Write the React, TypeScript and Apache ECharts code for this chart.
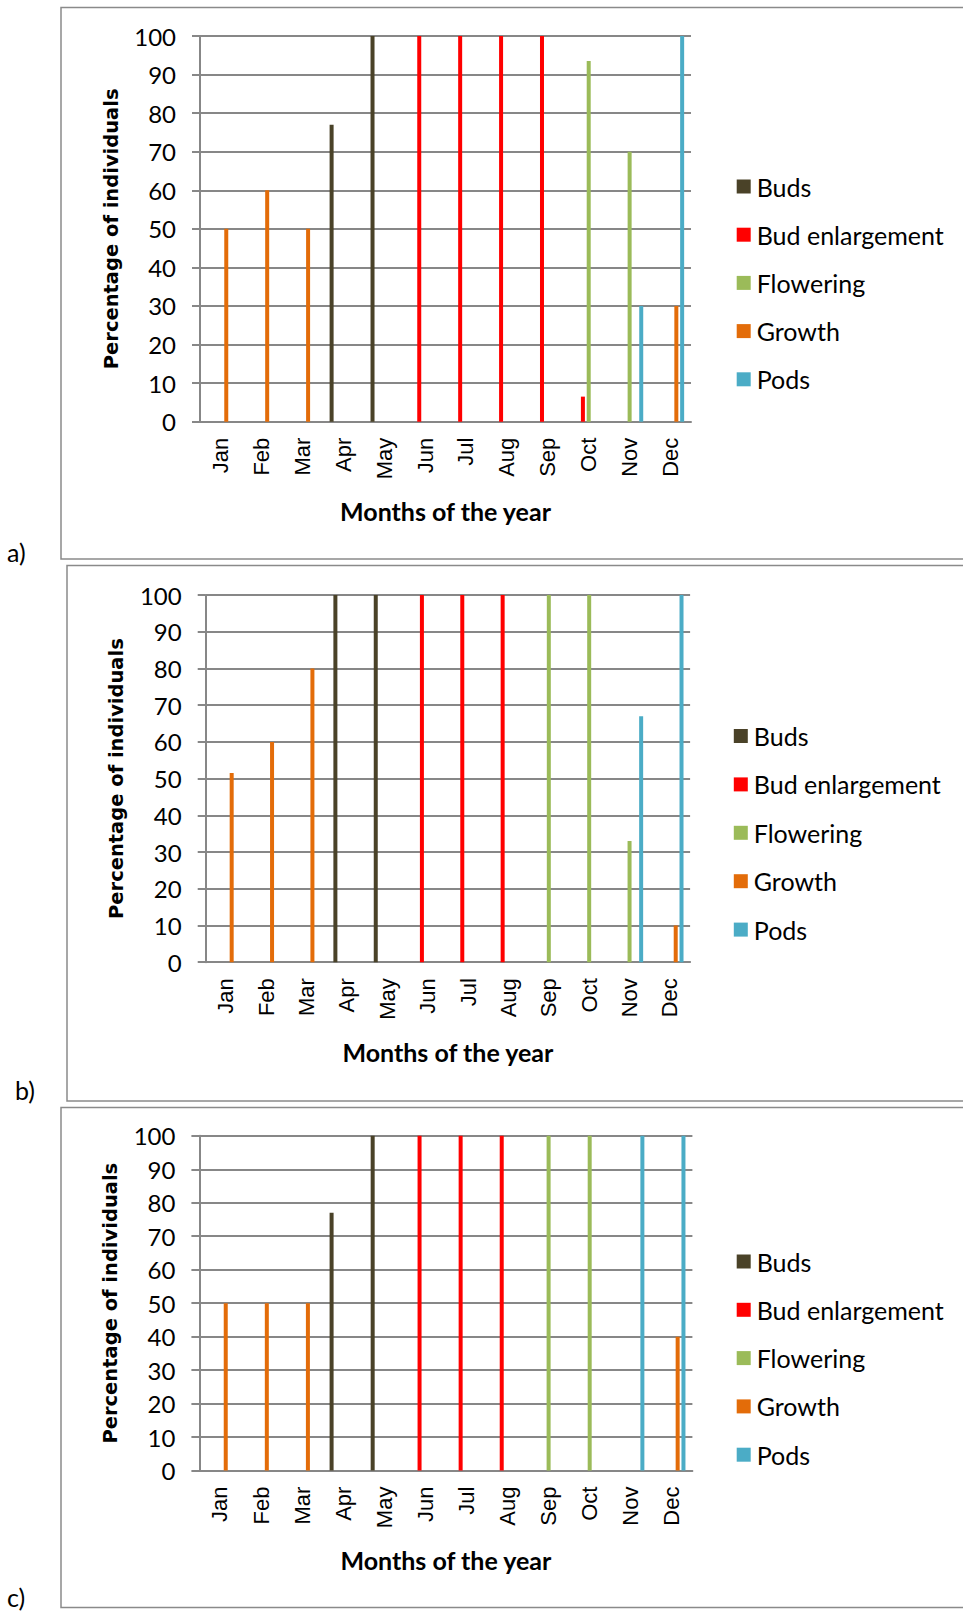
import React, { useEffect, useRef } from "react";
import * as echarts from "echarts";

// ---------- data ----------
const months = ["Jan", "Feb", "Mar", "Apr", "May", "Jun", "Jul", "Aug", "Sep", "Oct", "Nov", "Dec"];
const seriesNames = ["Buds", "Bud enlargement", "Flowering", "Growth", "Pods"];
const panelLabels = ["a)", "b)", "c)"];
const xAxisTitle = "Months of the year";
const yAxisTitle = "Percentage of individuals";

const N = null;
// panel a
const budsA = [N, N, N, 77, 100, N, N, N, N, N, N, N];
const budEnlargementA = [N, N, N, N, N, 100, 100, 100, 100, 6.5, N, N];
const floweringA = [N, N, N, N, N, N, N, N, N, 93.5, 70, N];
const growthA = [50, 60, 50, N, N, N, N, N, N, N, N, 30];
const podsA = [N, N, N, N, N, N, N, N, N, N, 30, 100];
// panel b
const budsB = [N, N, N, 100, 100, N, N, N, N, N, N, N];
const budEnlargementB = [N, N, N, N, N, 100, 100, 100, N, N, N, N];
const floweringB = [N, N, N, N, N, N, N, N, 100, 100, 33, N];
const growthB = [51.5, 60, 80, N, N, N, N, N, N, N, N, 10];
const podsB = [N, N, N, N, N, N, N, N, N, N, 67, 100];
// panel c
const budsC = [N, N, N, 77, 100, N, N, N, N, N, N, N];
const budEnlargementC = [N, N, N, N, N, 100, 100, 100, N, N, N, N];
const floweringC = [N, N, N, N, N, N, N, N, 100, 100, N, N];
const growthC = [50, 50, 50, N, N, N, N, N, N, N, N, 40];
const podsC = [N, N, N, N, N, N, N, N, N, N, 100, 100];

// ---------- styles ----------
const COLORS = ["#4A4228", "#FF0000", "#9BBB59", "#E36C09", "#4BACC6"];
const GRAY = "#878787";
const W = 963;
const H = 1612;

const panelData = [
  [budsA, budEnlargementA, floweringA, growthA, podsA],
  [budsB, budEnlargementB, floweringB, growthB, podsB],
  [budsC, budEnlargementC, floweringC, growthC, podsC],
];

// layout: plot box and frame positions per panel
const layout = [
  { left: 200, right: 691, top: 36, bottom: 421.7, legendX: 736.7, legendY: 186.5, legendStep: 48.2,
    frame: { x: 61, y: 7.5, b: 559 }, label: { x: 7, y: 552 } },
  { left: 205.7, right: 690.1, top: 595, bottom: 962.2, legendX: 733.8, legendY: 736, legendStep: 48.4,
    frame: { x: 67, y: 565.5, b: 1101 }, label: { x: 15, y: 1090 } },
  { left: 199.4, right: 692.4, top: 1135.8, bottom: 1470.6, legendX: 736.7, legendY: 1261.5, legendStep: 48.3,
    frame: { x: 61, y: 1107.5, b: 1607.5 }, label: { x: 7, y: 1597 } },
];

const LEG_FS = 25;
const LEG_LH = 26;

function buildOption() {
  const grid: any[] = [];
  const xAxis: any[] = [];
  const yAxis: any[] = [];
  const series: any[] = [];
  const legend: any[] = [];
  const graphic: any[] = [];

  layout.forEach((L, p) => {
    grid.push({
      left: L.left,
      width: L.right - L.left,
      top: L.top,
      height: L.bottom - L.top,
      containLabel: false,
    });
    xAxis.push({
      type: "category",
      gridIndex: p,
      data: months,
      name: xAxisTitle,
      nameLocation: "middle",
      nameGap: 77,
      nameTextStyle: { fontFamily: "Lato", fontWeight: "bold", fontSize: 25, color: "#000" },
      axisLine: { show: true, lineStyle: { color: GRAY, width: 2 } },
      axisTick: { show: false },
      axisLabel: {
        interval: 0,
        rotate: 90,
        margin: 16,
        fontFamily: "Liberation Sans",
        fontSize: 22,
        color: "#000",
      },
      splitLine: { show: false },
    });
    yAxis.push({
      type: "value",
      gridIndex: p,
      min: 0,
      max: 100,
      interval: 10,
      name: yAxisTitle,
      nameLocation: "middle",
      nameRotate: 90,
      nameGap: 79,
      nameTextStyle: { fontFamily: "DejaVu Sans", fontWeight: "bold", fontSize: 19.5, color: "#000" },
      axisLine: { show: true, lineStyle: { color: GRAY, width: 2 } },
      axisTick: { show: true, length: 8, lineStyle: { color: GRAY, width: 2 } },
      axisLabel: { margin: 24, fontFamily: "Lato", fontSize: 24, color: "#000" },
      splitLine: { show: true, lineStyle: { color: GRAY, width: 2 } },
    });
    panelData[p].forEach((vals, s) => {
      series.push({
        type: "bar",
        name: seriesNames[s],
        xAxisIndex: p,
        yAxisIndex: p,
        data: vals,
        barWidth: 4,
        barGap: "45%",
        itemStyle: { color: COLORS[s] },
      });
    });
    legend.push({
      orient: "vertical",
      left: L.legendX,
      top: L.legendY - LEG_LH / 2,
      padding: 0,
      itemWidth: 14,
      itemHeight: 14,
      itemGap: L.legendStep - LEG_LH,
      icon: "rect",
      selectedMode: false,
      data: seriesNames,
      textStyle: { fontFamily: "Lato", fontSize: LEG_FS, lineHeight: LEG_LH, color: "#000", padding: [0, 0, 0, 1] },
    });
    graphic.push({
      type: "rect",
      shape: { x: L.frame.x, y: L.frame.y, width: W + 20 - L.frame.x, height: L.frame.b - L.frame.y },
      style: { fill: "none", stroke: "#8a8a8a", lineWidth: 1.5 },
      silent: true,
      z: -10,
    });
    graphic.push({
      type: "text",
      x: L.label.x,
      y: L.label.y,
      style: {
        text: panelLabels[p],
        fontFamily: "Lato",
        fontSize: 25,
        fill: "#000",
        verticalAlign: "middle",
      },
    });
  });

  return {
    animation: false,
    backgroundColor: "#fff",
    grid,
    xAxis,
    yAxis,
    series,
    legend,
    graphic,
  };
}

export default function App() {
  const ref = useRef<HTMLDivElement>(null);
  useEffect(() => {
    document.body.style.margin = "0";
    const chart = echarts.init(ref.current as HTMLDivElement, undefined, { renderer: "svg", width: W, height: H });
    chart.setOption(buildOption() as any);
    return () => chart.dispose();
  }, []);
  return <div ref={ref} style={{ position: "absolute", left: 0, top: 0, width: W, height: H, background: "#fff" }} />;
}
